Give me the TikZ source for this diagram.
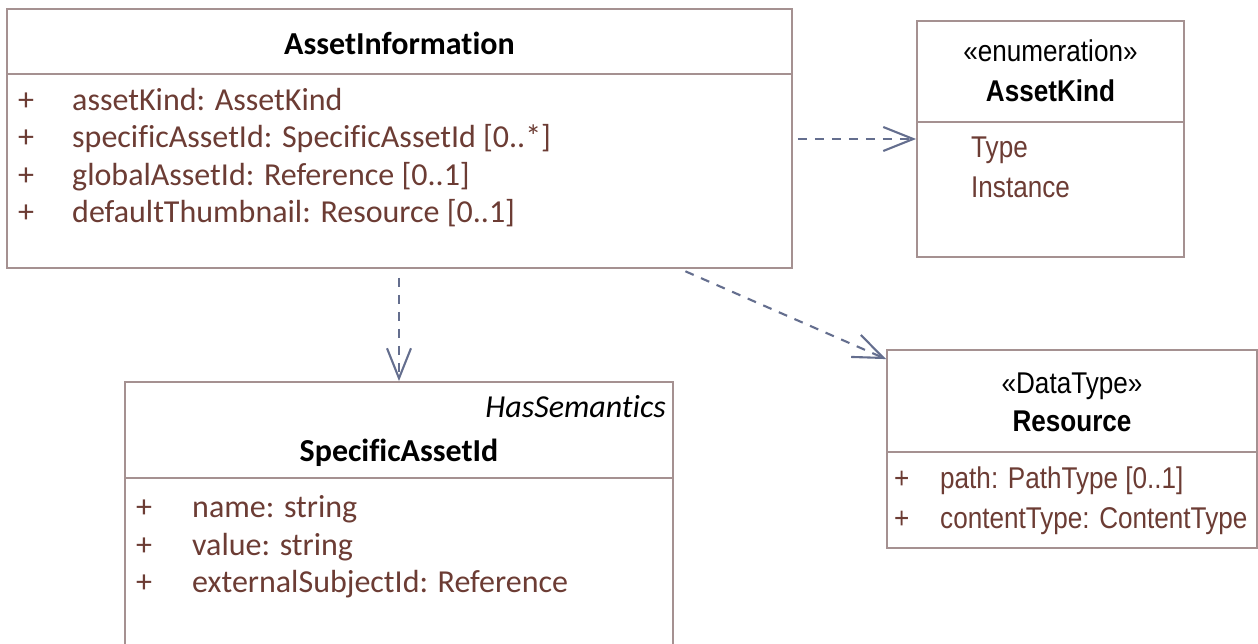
\documentclass[tikz,border=0pt]{standalone}
\usepackage{fontspec}
\setmainfont{Carlito}[Ligatures={NoCommon,NoContextual}]
\newfontfamily\arialn[FakeStretch=0.87]{Liberation Sans}
\usetikzlibrary{arrows.meta,calc}
\definecolor{bordercol}{RGB}{165,145,145}
\definecolor{attrcol}{RGB}{108,60,52}
\definecolor{arrowcol}{RGB}{100,110,142}
\tikzset{
  umlbox/.style={draw=bordercol, line width=1.8pt, fill=white, inner sep=0pt},
  sepline/.style={draw=bordercol, line width=1.8pt},
  txt/.style={inner sep=0pt, anchor=base west, font=\fontsize{32}{38}\selectfont, text=attrcol},
  title/.style={inner sep=0pt, anchor=base, font=\fontsize{32}{38}\selectfont\bfseries, text=black},
  atxt/.style={inner sep=0pt, anchor=base west, font=\fontsize{30}{36}\selectfont\arialn, text=attrcol},
  atitle/.style={inner sep=0pt, anchor=base, font=\fontsize{30}{36}\selectfont\arialn\bfseries, text=black},
  astereo/.style={inner sep=0pt, anchor=base, font=\fontsize{30}{36}\selectfont\arialn, text=black},
  dep/.style={draw=arrowcol, line width=2.1pt, dash pattern=on 9pt off 8pt,
    -{Straight Barb[length=30pt,width=24pt,line width=2.1pt]}}
}
\begin{document}
\begin{tikzpicture}[x=1pt,y=-1pt]
\clip (0,0) rectangle (1258,644);
\fill[white] (0,0) rectangle (1258,644);

% AssetInformation
\node[umlbox, minimum width=785pt, minimum height=259pt] (ai) at (399.5,138.5) {};
\draw[sepline] (7,74) -- (792,74);
\node[title] (aiT) at (399.5,55) {AssetInformation};
\node[txt] (aip1) at (18,111) {+};
\node[txt] (aia1) at (72,111) {assetKind: AssetKind};
\node[txt] (aip2) at (18,148) {+};
\node[txt] (aia2) at (72,148) {specificAssetId: SpecificAssetId [0..*]};
\node[txt] (aip3) at (18,186) {+};
\node[txt] (aia3) at (72,186) {globalAssetId: Reference [0..1]};
\node[txt] (aip4) at (18,223) {+};
\node[txt] (aia4) at (72,223) {defaultThumbnail: Resource [0..1]};

% AssetKind
\node[umlbox, minimum width=267pt, minimum height=236pt] (ak) at (1050.5,139) {};
\draw[sepline] (917,122) -- (1184,122);
\node[astereo] (akS) at (1050.5,62) {«enumeration»};
\node[atitle] (akT) at (1050.5,102) {AssetKind};
\node[atxt] (ak1) at (971,158) {Type};
\node[atxt] (ak2) at (971,198) {Instance};

% SpecificAssetId
\node[umlbox, minimum width=548pt, minimum height=280pt] (sai) at (399,522) {};
\draw[sepline] (125,478) -- (673,478);
\node[inner sep=0pt, anchor=base east, font=\fontsize{32}{38}\selectfont\itshape] (saiS) at (666,417) {HasSemantics};
\node[title] (saiT) at (399,461) {SpecificAssetId};
\node[txt] (saip1) at (136,517) {+};
\node[txt] (saia1) at (192,517) {name: string};
\node[txt] (saip2) at (136,555) {+};
\node[txt] (saia2) at (192,555) {value: string};
\node[txt] (saip3) at (136,592) {+};
\node[txt] (saia3) at (192,592) {externalSubjectId: Reference};

% Resource
\node[umlbox, minimum width=370pt, minimum height=198pt] (res) at (1072,449) {};
\draw[sepline] (887,452) -- (1257,452);
\node[astereo] (resS) at (1072,393) {«DataType»};
\node[atitle] (resT) at (1072,431) {Resource};
\node[atxt] (resp1) at (894,488) {+};
\node[atxt] (resa1) at (940,488) {path: PathType [0..1]};
\node[atxt] (resp2) at (894,528) {+};
\node[atxt] (resa2) at (940,528) {contentType: ContentType};

% connectors
\draw[dep, shorten <=9pt] (ai.south -| sai.north) -- (sai.north);
\draw[dep, shorten <=5pt] (ai.east |- ak.west) -- (ak.west);
\draw[dep, shorten <=6pt] ($(ai.south east)+(-113,0)$) -- ($(res.north west)+(0,10)$);
\end{tikzpicture}
\end{document}
